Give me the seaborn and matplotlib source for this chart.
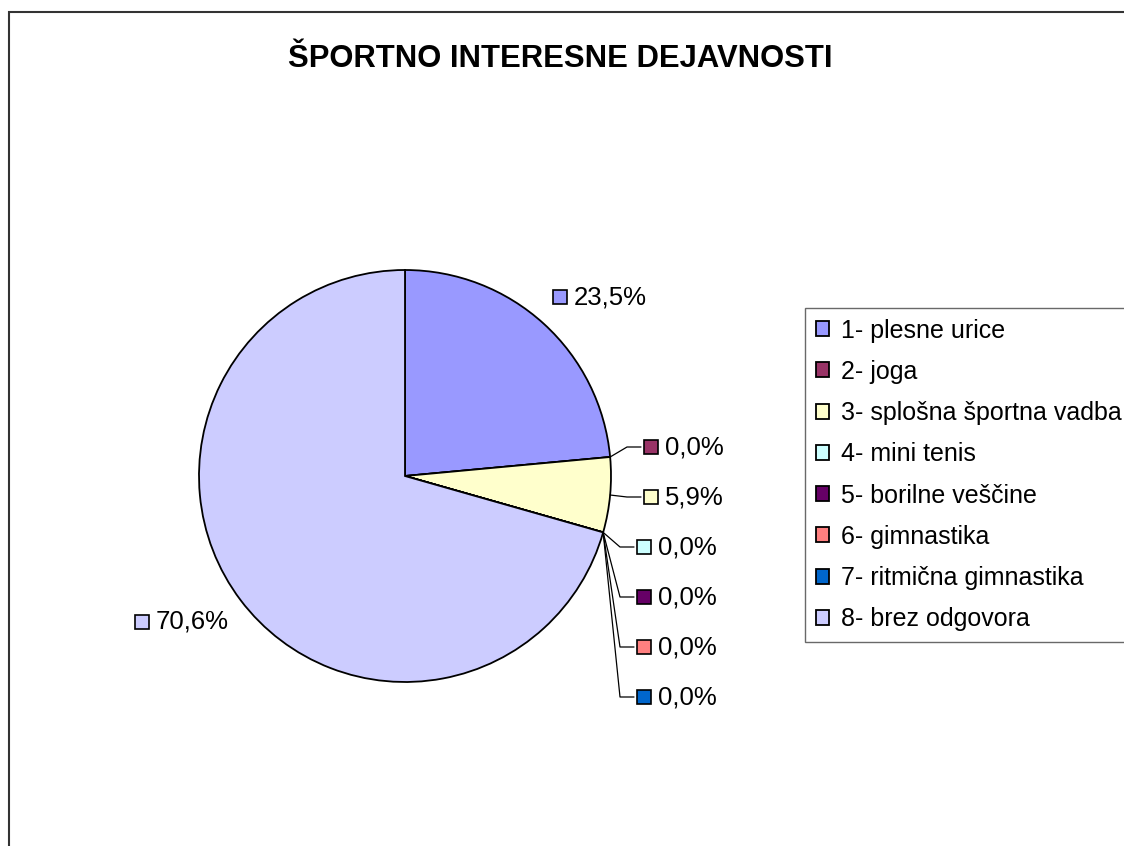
import matplotlib
matplotlib.use("Agg")
import matplotlib.pyplot as plt
import seaborn as sns
import numpy as np
from matplotlib.patches import Rectangle

# data
categories = ["1- plesne urice", "2- joga", "3- splošna športna vadba", "4- mini tenis",
              "5- borilne veščine", "6- gimnastika", "7- ritmična gimnastika", "8- brez odgovora"]
counts = [4, 0, 1, 0, 0, 0, 0, 12]
colors = ["#9999FF", "#993366", "#FFFFCC", "#CCFFFF", "#660066", "#FF8080", "#0066CC", "#CCCCFF"]
title = "ŠPORTNO INTERESNE DEJAVNOSTI"

sns.set_theme(style="white")
plt.rcParams["font.family"] = ["Liberation Sans", "DejaVu Sans"]
plt.rcParams["text.color"] = "black"

W, H = 1124, 846
fig = plt.figure(figsize=(W / 100, H / 100), dpi=100)
fig.patch.set_facecolor("white")
ax = fig.add_axes([0, 0, 1, 1])

# pie in pixel-like coordinates (y up)
cx, cy, r = 405, H - 476, 206
pal = sns.color_palette(colors)
wedges, _ = ax.pie(counts, colors=pal, startangle=90, counterclock=False,
                   center=(cx, cy), radius=r, frame=True,
                   wedgeprops=dict(edgecolor="black", linewidth=1.3))
ax.set_xlim(0, W)
ax.set_ylim(0, H)
ax.axis("off")

# label square positions (pixels, top-left origin)
label_pos = [(560, 297), (651, 447), (651, 497), (644, 547),
             (644, 597), (644, 647), (644, 697), (142, 622)]
leader = [False, True, True, True, True, True, True, False]

total = sum(counts)
for i, c in enumerate(counts):
    pct = f"{c / total * 100:.1f}%".replace(".", ",")
    sx, sy = label_pos[i]
    sy = H - sy
    if leader[i]:
        w = wedges[i]
        mid = np.deg2rad((w.theta1 + w.theta2) / 2)
        ex, ey = cx + r * np.cos(mid), cy + r * np.sin(mid)
        elbow_x = sx - 24
        ax.plot([ex, elbow_x, sx - 10], [ey, sy, sy], color="black", lw=0.9, zorder=1)
    ax.plot([sx], [sy], marker="s", markersize=10, markerfacecolor=colors[i],
            markeredgecolor="black", markeredgewidth=1.2, zorder=3)
    ax.text(sx + 14, sy, pct, fontsize=18.5, ha="left", va="center", color="black")

# title
fig.text(560 / W, 1 - 67 / H, title, fontsize=22.3, fontweight="bold",
         ha="center", va="baseline", color="black")

# legend
leg = ax.legend(wedges, categories, loc="upper left",
                bbox_to_anchor=(805 / W, 1 - 308 / H), bbox_transform=fig.transFigure,
                borderaxespad=0, fontsize=18, frameon=True, fancybox=False,
                handlelength=0.55, handleheight=0.55, handletextpad=0.45,
                labelspacing=0.69, borderpad=0.42, labelcolor="black")
leg.get_frame().set_edgecolor("#444444")
leg.get_frame().set_linewidth(1.0)

# outer chart border
fig.add_artist(Rectangle((9 / W, -0.5), 2.0, 1.5 - 12 / H, transform=fig.transFigure,
                         fill=False, edgecolor="#333333", linewidth=1.5))

fig.savefig("out.png", dpi=100, facecolor="white")
